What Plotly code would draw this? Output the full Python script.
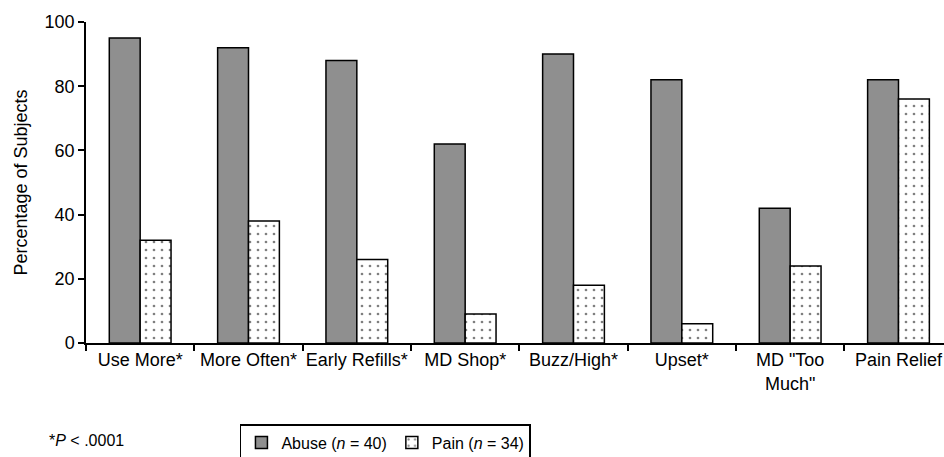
import plotly.graph_objects as go

categories = ["Use More*", "More Often*", "Early Refills*", "MD Shop*", "Buzz/High*",
              "Upset*", "MD \"Too<br>Much\"", "Pain Relief"]
abuse = [95, 92, 88, 62, 90, 82, 42, 82]
pain = [32, 38, 26, 9, 18, 6, 24, 76]
y_ticks = [0, 20, 40, 60, 80, 100]

font = "Liberation Sans, Arial, sans-serif"

fig = go.Figure()
fig.add_trace(go.Bar(
    x=categories, y=abuse, name="Abuse (<i>n</i> = 40)",
    marker=dict(color="#8f8f8f", line=dict(color="black", width=1.5)),
))
fig.add_trace(go.Bar(
    x=categories, y=pain, name="Pain (<i>n</i> = 34)",
    marker=dict(color="white", line=dict(color="black", width=1.5),
                pattern=dict(shape=".", fgcolor="black", bgcolor="white",
                             size=8, solidity=0.09)),
))

fig.update_layout(
    width=944, height=457,
    margin=dict(l=86, r=0, t=22, b=114, autoexpand=False),
    paper_bgcolor="white", plot_bgcolor="white",
    barmode="group", bargap=0.43, bargroupgap=0,
    font=dict(family=font, size=18, color="black"),
    showlegend=True,
    legend=dict(orientation="h", x=0.349, xanchor="center", y=-0.253, yanchor="top",
                bordercolor="black", borderwidth=1.5, bgcolor="white",
                font=dict(size=16), itemwidth=30, tracegroupgap=0),
    annotations=[dict(text="*<i>P</i> < .0001", xref="paper", yref="paper",
                      x=-0.046, y=-0.305, xanchor="left", yanchor="middle",
                      showarrow=False, font=dict(size=16))],
)
fig.update_xaxes(
    type="category", range=[-0.5, 7.42], tickson="boundaries", automargin=False,
    tickangle=0,
    ticks="outside", ticklen=6, tickwidth=1.5, tickcolor="black",
    showline=True, linecolor="black", linewidth=1.5, showgrid=False,
    tickfont=dict(size=18),
)
fig.update_yaxes(
    range=[0, 100], tickvals=y_ticks, ticks="outside", ticklen=6, tickwidth=1.5,
    automargin=False,
    tickcolor="black", showline=True, linecolor="black", linewidth=1.5,
    showgrid=False, zeroline=False, tickfont=dict(size=18),
    title=dict(text="Percentage of Subjects", font=dict(size=18), standoff=12),
)

fig.write_html("out.html", config={"displayModeBar": False},
               post_script="document.body.style.margin='0';")
